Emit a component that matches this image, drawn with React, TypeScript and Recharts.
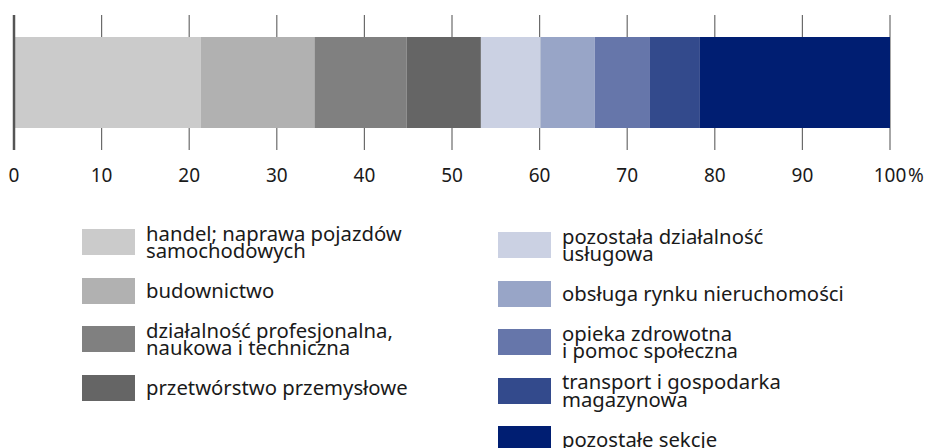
import React from "react";
import {
  BarChart,
  Bar,
  XAxis,
  YAxis,
  CartesianGrid,
  ReferenceLine,
  Legend,
} from "recharts";

const categories = [
  "handel; naprawa pojazdów\nsamochodowych",
  "budownictwo",
  "działalność profesjonalna,\nnaukowa i techniczna",
  "przetwórstwo przemysłowe",
  "pozostała działalność\nusługowa",
  "obsługa rynku nieruchomości",
  "opieka zdrowotna\ni pomoc społeczna",
  "transport i gospodarka\nmagazynowa",
  "pozostałe sekcje",
];

const shares = [21.3, 13.0, 10.5, 8.5, 6.8, 6.2, 6.3, 5.7, 21.7];

const colors = [
  "#cbcbcb",
  "#b1b1b1",
  "#808080",
  "#656565",
  "#cbd1e3",
  "#98a5c7",
  "#6676aa",
  "#334a8c",
  "#001e72",
];

const xTicks = [0, 10, 20, 30, 40, 50, 60, 70, 80, 90, 100];

const keys = shares.map((_, i) => `s${i + 1}`);
const row: Record<string, number | string> = { name: "2023" };
keys.forEach((k, i) => {
  row[k] = shares[i];
});
const data = [row];

const FONT = "'Noto Sans', sans-serif";

const Tick = (props: any) => {
  const { x, y, payload } = props;
  const v = payload.value;
  return (
    <g>
      <text
        x={x}
        y={y + 24}
        textAnchor="middle"
        fontFamily={FONT}
        fontSize={19}
        fill="#1a1a1a"
      >
        {v}
      </text>
      {v === 100 ? (
        <text
          x={x + 18}
          y={y + 24}
          textAnchor="start"
          fontFamily={FONT}
          fontSize={19}
          fill="#1a1a1a"
        >
          %
        </text>
      ) : null}
    </g>
  );
};

const LegendContent = () => {
  const leftCount = 4;
  return (
    <div style={{ position: "relative", width: 928, height: 448 }}>
      {categories.map((name, i) => {
        const col = i < leftCount ? 0 : 1;
        const idx = col === 0 ? i : i - leftCount;
        const left = col === 0 ? 82 : 498;
        const top = (col === 0 ? 229 : 232) + idx * 48.6;
        return (
          <div
            key={name}
            style={{
              position: "absolute",
              left,
              top,
              height: 26,
              display: "flex",
              alignItems: "center",
              whiteSpace: "pre",
            }}
          >
            <div
              style={{
                width: 53,
                height: 26,
                background: colors[i],
                flex: "0 0 auto",
              }}
            />
            <div
              style={{
                marginLeft: 11,
                fontFamily: FONT,
                fontSize: 20.3,
                lineHeight: "17.5px",
                color: "#1a1a1a",
              }}
            >
              {name}
            </div>
          </div>
        );
      })}
    </div>
  );
};

export default function App() {
  return (
    <div
      style={{
        position: "absolute",
        left: 0,
        top: 0,
        width: 928,
        height: 448,
        background: "#ffffff",
        overflow: "hidden",
      }}
    >
      <BarChart
        width={928}
        height={448}
        data={data}
        layout="vertical"
        margin={{ top: 15, right: 38, left: 14, bottom: 268 }}
      >
        <CartesianGrid
          horizontal={false}
          vertical={true}
          stroke="#6b6b6b"
          strokeWidth={1.2}
        />
        <XAxis
          type="number"
          domain={[0, 100]}
          ticks={xTicks}
          axisLine={false}
          tickLine={false}
          height={30}
          tick={<Tick />}
          interval={0}
        />
        <YAxis type="category" dataKey="name" hide width={0} />
        {keys.map((k, i) => (
          <Bar
            key={k}
            dataKey={k}
            stackId="a"
            fill={colors[i]}
            barSize={91}
            isAnimationActive={false}
          />
        ))}
        <ReferenceLine x={0} stroke="#555555" strokeWidth={2.5} />
        <Legend
          layout="vertical"
          align="center"
          verticalAlign="middle"
          wrapperStyle={{ left: 0, top: 0, width: 928, height: 448, pointerEvents: "none" }}
          content={<LegendContent />}
        />
      </BarChart>
    </div>
  );
}
